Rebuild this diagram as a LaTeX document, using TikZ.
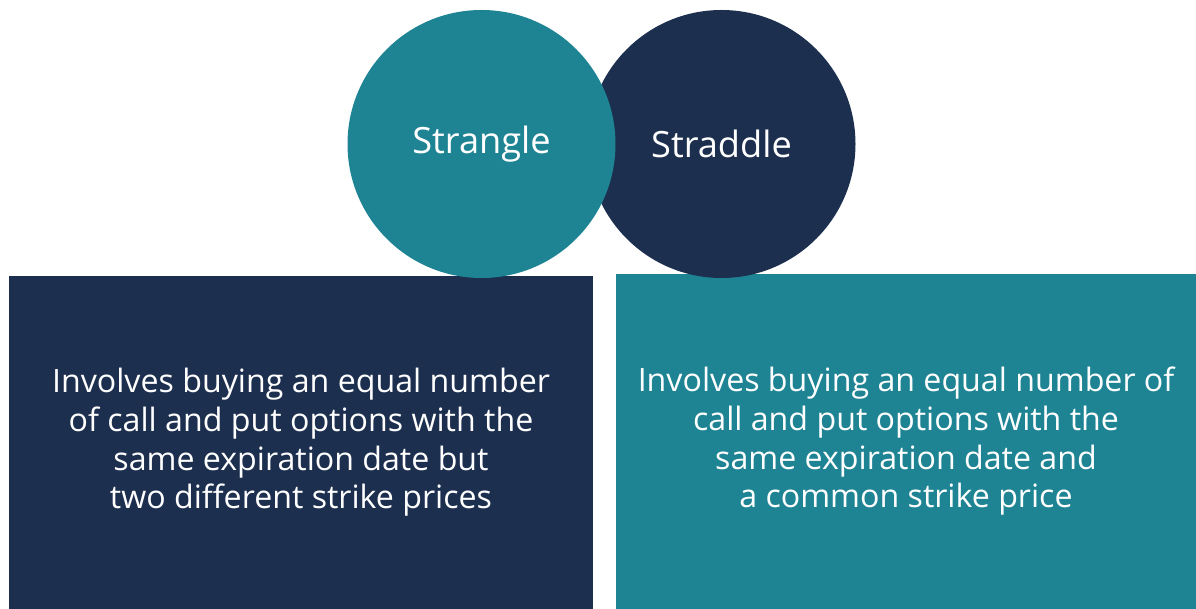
\documentclass[tikz,border=0pt]{standalone}
\usepackage{fontspec}
\setmainfont{Open Sans}
\usepackage{tikz}
\usetikzlibrary{positioning}
\definecolor{tealish}{RGB}{30,132,148}
\definecolor{navy}{RGB}{29,47,79}
\tikzset{
  bubble/.style={circle, minimum size=5.36cm, inner sep=0pt, text=white,
    font=\fontsize{20.6}{24}\selectfont},
  infobox/.style={rectangle, inner sep=0pt, text=white, align=center,
    font=\fontsize{18.3}{22}\selectfont},
}

\begin{document}
\begin{tikzpicture}
    \useasboundingbox (0,0) rectangle (23.92,12.18);

    \node [infobox, fill=navy, minimum width=11.69cm, minimum height=6.66cm]
      (strangleBox) at (6.02, 3.33)
      {Involves buying an equal number\\ of call and put options with the\\
       same expiration date but\\ two different strike prices};
    \node [infobox, fill=tealish, minimum width=11.6cm, minimum height=6.7cm]
      (straddleBox) at (18.12, 3.35)
      {Involves buying an equal number of\\ call and put options with the\\
       same expiration date and\\ a common strike price};

    \node [bubble, fill=navy] (straddle) at (14.43, 9.30) {Straddle};
    \node [bubble, fill=tealish] (strangle) at (9.63, 9.30) {Strangle};
  \end{tikzpicture}
\end{document}
